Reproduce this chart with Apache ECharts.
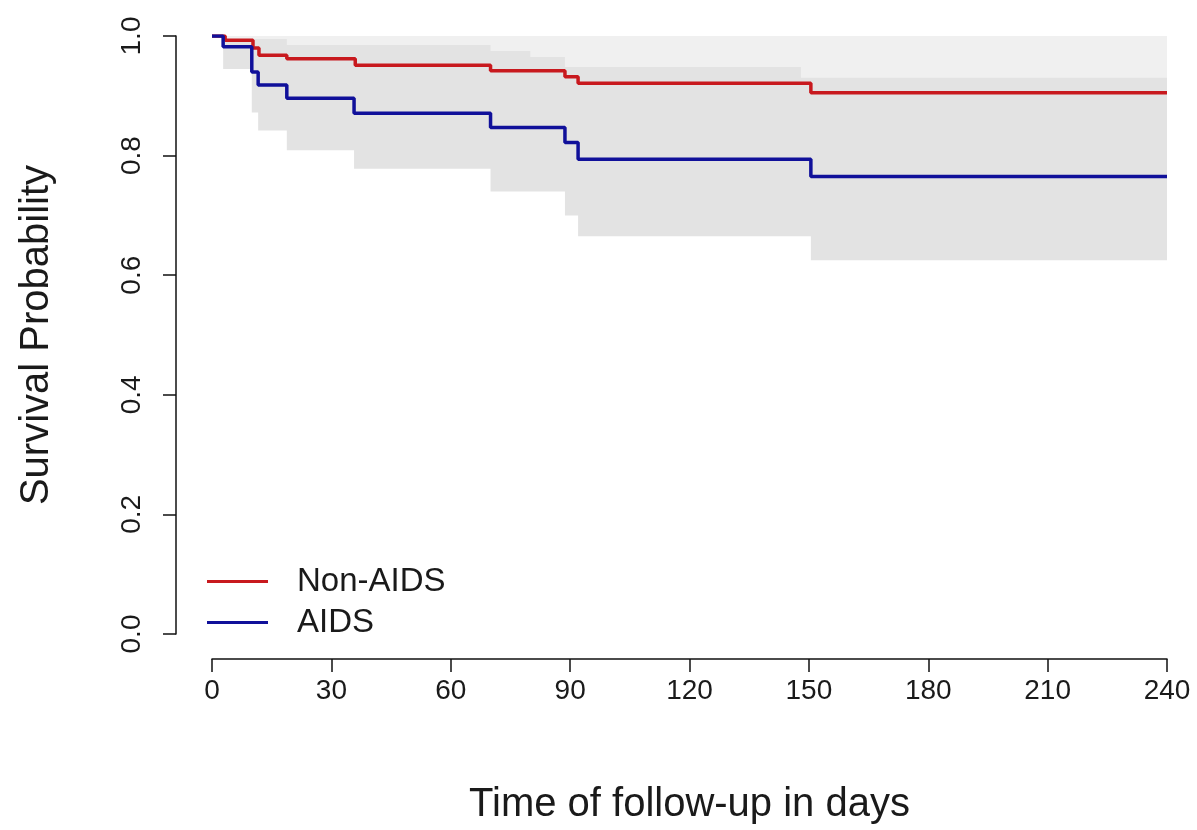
<!DOCTYPE html>
<html>
<head>
<meta charset="utf-8">
<script src="https://cdn.jsdelivr.net/npm/echarts@6/dist/echarts.min.js"></script>
<style>
  html, body { margin: 0; padding: 0; background: #fff; }
  #chart { width: 1197px; height: 830px; }
</style>
</head>
<body>
<div id="chart"></div>
<script>
// Kaplan-Meier estimates (days, survival probability)
const nonAidsTime = [0, 3.3, 10.3, 11.8, 18.8, 36, 70, 88.7, 92, 150.5, 240]
const nonAidsSurv = [1.0, 0.993, 0.98, 0.968, 0.962, 0.951, 0.942, 0.932, 0.921, 0.905, 0.905]
const nonAidsCiUpper = [1, 1, 1, 1, 1, 1, 1, 1, 1, 1, 1]
const nonAidsCiLower = [1.0, 0.975, 0.955, 0.94, 0.928, 0.915, 0.9, 0.888, 0.878, 0.86, 0.86]

const aidsTime = [0, 2.8, 10, 11.6, 18.8, 35.7, 70, 88.7, 92, 150.5, 240]
const aidsSurv = [1.0, 0.982, 0.94, 0.918, 0.896, 0.871, 0.847, 0.822, 0.794, 0.765, 0.765]
const aidsCiTime = [0, 2.8, 10, 11.6, 18.8, 35.7, 70, 80, 88.7, 92, 148, 150.5, 240]
const aidsCiUpper = [1.0, 0.99, 0.995, 0.995, 0.985, 0.985, 0.975, 0.965, 0.948, 0.948, 0.93, 0.93, 0.93]
const aidsCiLower = [1.0, 0.945, 0.872, 0.842, 0.809, 0.778, 0.74, 0.74, 0.70, 0.665, 0.665, 0.625, 0.625]

const xTicks = { min: 0, max: 240, interval: 30 }
const yTicks = { min: 0, max: 1, interval: 0.2 }

const FONT = 'Liberation Sans, Arial, sans-serif'
const RED = '#c8191e'
const BLUE = '#10109a'

function pairs(xs, ys) {
  return xs.map((x, i) => [x, ys[i]])
}

// filled step area down to the axis min; bands are made by painting the
// upper bound in grey and then the lower bound in white over it
function fill(name, xs, ys, color) {
  return {
    name: name,
    type: 'line',
    step: 'end',
    showSymbol: false,
    silent: true,
    lineStyle: { opacity: 0 },
    areaStyle: { color: color, opacity: 1, origin: 'start' },
    data: pairs(xs, ys)
  }
}

function curve(name, xs, ys, color) {
  return {
    name: name,
    type: 'line',
    step: 'end',
    showSymbol: false,
    color: color,
    lineStyle: { color: color, width: 3.5 },
    data: pairs(xs, ys)
  }
}

const chart = echarts.init(document.getElementById('chart'))
chart.setOption({
  animation: false,
  backgroundColor: '#fff',
  textStyle: { fontFamily: FONT },
  grid: { left: 212, right: 30, top: 36, bottom: 193 },
  legend: {
    data: ['Non-AIDS', 'AIDS'],
    orient: 'vertical',
    left: 202,
    top: 560,
    icon: 'rect',
    itemWidth: 61,
    itemHeight: 3,
    itemGap: 8,
    textStyle: { fontFamily: FONT, fontSize: 33, color: '#1a1a1a', padding: [0, 0, 0, 24] }
  },
  xAxis: {
    type: 'value',
    min: xTicks.min,
    max: xTicks.max,
    interval: xTicks.interval,
    offset: 25,
    name: 'Time of follow-up in days',
    nameLocation: 'middle',
    nameGap: 126,
    nameTextStyle: { fontFamily: FONT, fontSize: 40, color: '#1a1a1a' },
    axisLine: { onZero: false, lineStyle: { color: '#111', width: 1.5 } },
    axisTick: { length: 13, lineStyle: { color: '#111', width: 1.5 } },
    axisLabel: { fontFamily: FONT, fontSize: 28, color: '#1a1a1a', margin: 18 },
    splitLine: { show: false }
  },
  yAxis: {
    type: 'value',
    min: yTicks.min,
    max: yTicks.max,
    interval: yTicks.interval,
    offset: 36,
    name: 'Survival Probability',
    nameLocation: 'middle',
    nameGap: 119,
    nameTextStyle: { fontFamily: FONT, fontSize: 40, color: '#1a1a1a' },
    axisLine: { show: true, onZero: false, lineStyle: { color: '#111', width: 1.5 } },
    axisTick: { show: true, length: 13, lineStyle: { color: '#111', width: 1.5 } },
    axisLabel: {
      fontFamily: FONT, fontSize: 28, color: '#1a1a1a', rotate: 90, margin: 30,
      formatter: v => v.toFixed(1)
    },
    splitLine: { show: false }
  },
  series: [
    fill('nonAidsCiUpper', nonAidsTime, nonAidsCiUpper, '#f0f0f0'),
    fill('nonAidsCiLower', nonAidsTime, nonAidsCiLower, '#ffffff'),
    fill('aidsCiUpper', aidsCiTime, aidsCiUpper, '#e3e3e3'),
    fill('aidsCiLower', aidsCiTime, aidsCiLower, '#ffffff'),
    curve('Non-AIDS', nonAidsTime, nonAidsSurv, RED),
    curve('AIDS', aidsTime, aidsSurv, BLUE)
  ]
})
</script>
</body>
</html>
